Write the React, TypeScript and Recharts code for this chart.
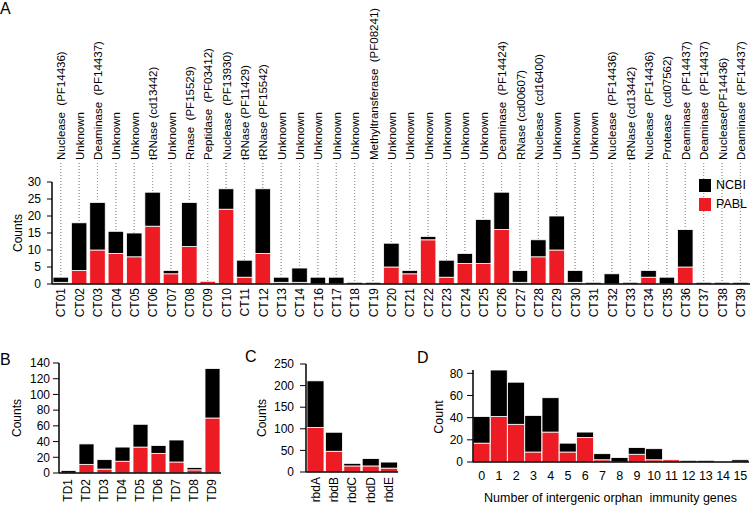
import React from 'react';
import { BarChart, Bar, XAxis, YAxis, Legend } from 'recharts';

const FONT = 'Arial, "Liberation Sans", Helvetica, sans-serif';
const RED = '#ED1C24';
const BLACK = '#000000';
const GUIDE = '#9a9a9a';

// ---------- Panel A ----------
const ctCategories = [
  'CT01', 'CT02', 'CT03', 'CT04', 'CT05', 'CT06', 'CT07', 'CT08', 'CT09', 'CT10',
  'CT11', 'CT12', 'CT13', 'CT14', 'CT16', 'CT17', 'CT18', 'CT19', 'CT20', 'CT21',
  'CT22', 'CT23', 'CT24', 'CT25', 'CT26', 'CT27', 'CT28', 'CT29', 'CT30', 'CT31',
  'CT32', 'CT33', 'CT34', 'CT35', 'CT36', 'CT37', 'CT38', 'CT39',
];
const ctFunctions = [
  'Nuclease  (PF14436)', 'Unknown', 'Deaminase  (PF14437)', 'Unknown', 'Unknown',
  'tRNase (cd13442)', 'Unknown', 'Rnase  (PF15529)', 'Peptidase  (PF03412)', 'Nuclease  (PF13930)',
  'tRNase (PF11429)', 'tRNase (PF15542)', 'Unknown', 'Unknown', 'Unknown',
  'Unknown', 'Unknown', 'Methyltransferase  (PF08241)', 'Unknown', 'Unknown',
  'Unknown', 'Unknown', 'Unknown', 'Unknown', 'Deaminase  (PF14424)',
  'RNase (cd00607)', 'Nuclease  (cd16400)', 'Unknown', 'Unknown', 'Unknown',
  'Nuclease  (PF14436)', 'tRNase (cd13442)', 'Nuclease  (PF14436)', 'Protease  (cd07562)', 'Deaminase  (PF14437)',
  'Deaminase  (PF14437)', 'Nuclease(PF14436)', 'Deaminase  (PF14437)',
];
const ctPABL = [
  0.5, 4, 10, 9, 8, 17, 3, 11, 0.8, 22,
  2, 9, 0.5, 0.5, 0, 0, 0, 0, 5, 3,
  13, 2, 6, 6, 16, 0.5, 8, 10, 0.5, 0,
  0, 0, 2, 0, 5, 0, 0, 0,
];
const ctNCBI = [
  1.5, 14, 14, 6.5, 7, 10, 1, 13, 0, 6,
  5, 19, 1.5, 4.2, 2, 2, 0.5, 0.5, 7, 1,
  1, 5, 3, 13, 11, 3.5, 5, 10, 3.5, 0.5,
  3, 0.5, 2, 2, 11, 0.5, 0.5, 0.5,
];
const aTicks = [0, 5, 10, 15, 20, 25, 30];
const legendOrder = ['NCBI', 'PABL'];

// ---------- Panel B ----------
const tdCategories = ['TD1', 'TD2', 'TD3', 'TD4', 'TD5', 'TD6', 'TD7', 'TD8', 'TD9'];
const tdPABL = [0, 11, 5, 15, 33, 25, 14, 4, 70];
const tdNCBI = [3, 26, 12, 18, 29, 10, 28, 3, 63];
const bTicks = [0, 20, 40, 60, 80, 100, 120, 140];

// ---------- Panel C ----------
const rbdCategories = ['rbdA', 'rbdB', 'rbdC', 'rbdD', 'rbdE'];
const rbdPABL = [103, 48, 14, 14, 9];
const rbdNCBI = [108, 44, 6, 17, 14];
const cTicks = [0, 50, 100, 150, 200, 250];

// ---------- Panel D ----------
const orphanCategories = ['0', '1', '2', '3', '4', '5', '6', '7', '8', '9', '10', '11', '12', '13', '14', '15'];
const orphanPABL = [17, 41, 34, 9, 27, 9, 22, 2, 0, 7, 2, 2, 0, 0, 0, 0];
const orphanNCBI = [24, 42, 38, 33, 31, 8, 5, 5.5, 4, 6, 10, 0, 1.5, 1.5, 0.5, 2];
const dTicks = [0, 20, 40, 60, 80];

const build = (cats: string[], pabl: number[], ncbi: number[]) =>
  cats.map((c, i) => ({ cat: c, PABL: pabl[i], NCBI: ncbi[i] }));

const dataA = build(ctCategories, ctPABL, ctNCBI);
const dataB = build(tdCategories, tdPABL, tdNCBI);
const dataC = build(rbdCategories, rbdPABL, rbdNCBI);
const dataD = build(orphanCategories, orphanPABL, orphanNCBI);

const fnMap: Record<string, string> = {};
ctCategories.forEach((c, i) => {
  fnMap[c] = ctFunctions[i];
});

const makeShape = (fill: string, guide: boolean) => (props: any) => {
  const { x, y, width, height, background } = props;
  const els: any[] = [];
  if (guide) {
    const cx = x + width / 2;
    const plotTop = background && typeof background.y === 'number' ? background.y : y;
    els.push(
      <line key="g" x1={cx} x2={cx} y1={plotTop - 19} y2={y} stroke={GUIDE} strokeWidth={1} strokeDasharray="1 2" />
    );
  }
  if (height > 0) {
    els.push(
      <rect key="r" x={x} y={y} width={width} height={height} fill={fill} stroke="#ffffff" strokeWidth={0.8} />
    );
  }
  return <g>{els}</g>;
};

const redGuided = makeShape(RED, true);
const blackGuided = makeShape(BLACK, true);
const redPlain = makeShape(RED, false);
const blackPlain = makeShape(BLACK, false);

const TopTick = (props: any) => {
  const { x, y, payload } = props;
  return (
    <text
      x={x}
      y={y}
      transform={`rotate(-90 ${x} ${y})`}
      textAnchor="start"
      dy="0.36em"
      fontSize={11.5}
      fill="#000"
      fontFamily={FONT}
      style={{ whiteSpace: 'pre' }}
    >
      {fnMap[payload.value]}
    </text>
  );
};

const RotBottomTick = (props: any) => {
  const { x, y, payload } = props;
  return (
    <text
      x={x}
      y={y}
      transform={`rotate(-90 ${x} ${y})`}
      textAnchor="end"
      dy="0.36em"
      fontSize={12}
      fill="#000"
      fontFamily={FONT}
    >
      {payload.value}
    </text>
  );
};

const LegendContent = (props: any) => {
  const items = [...(props.payload || [])].sort(
    (a: any, b: any) => legendOrder.indexOf(a.value) - legendOrder.indexOf(b.value)
  );
  return (
    <div style={{ fontFamily: FONT, fontSize: 12.5, color: '#000' }}>
      {items.map((it: any) => (
        <div key={it.value} style={{ display: 'flex', alignItems: 'center', height: 13, marginBottom: 6 }}>
          <span style={{ display: 'inline-block', width: 12, height: 13, background: it.color, marginRight: 5 }} />
          <span style={{ lineHeight: '13px' }}>{it.value}</span>
        </div>
      ))}
    </div>
  );
};

const axisLine = { stroke: '#000', strokeWidth: 1.5 };
const tickStyle = { fill: '#000', fontSize: 12, fontFamily: FONT };

const PanelA = () => (
  <BarChart width={750} height={330} data={dataA} margin={{ top: 0, right: 0, bottom: 0, left: 0 }} barSize={15.5}>
    <XAxis
      xAxisId="top"
      orientation="top"
      dataKey="cat"
      height={182}
      axisLine={false}
      tickLine={false}
      tickSize={0}
      tickMargin={22}
      interval={0}
      tick={<TopTick />}
    />
    <XAxis
      xAxisId="bottom"
      dataKey="cat"
      height={46}
      axisLine={axisLine}
      tickLine={false}
      tickSize={0}
      tickMargin={4}
      interval={0}
      tick={<RotBottomTick />}
    />
    <YAxis
      type="number"
      domain={[0, 30]}
      ticks={aTicks}
      interval={0}
      width={52}
      axisLine={axisLine}
      tickLine={{ stroke: '#000' }}
      tickSize={5}
      tickMargin={6}
      tick={tickStyle}
    />
    <Legend
      layout="vertical"
      align="center"
      verticalAlign="middle"
      wrapperStyle={{ left: 699, top: 179, width: 60 }}
      content={<LegendContent />}
    />
    <Bar xAxisId="bottom" dataKey="PABL" name="PABL" stackId="s" fill={RED} shape={redGuided} isAnimationActive={false} />
    <Bar xAxisId="bottom" dataKey="NCBI" name="NCBI" stackId="s" fill={BLACK} shape={blackGuided} isAnimationActive={false} />
  </BarChart>
);

const PanelB = () => (
  <BarChart width={230} height={175} data={dataB} margin={{ top: 33, right: 9, bottom: 0, left: 0 }} barSize={15}>
    <XAxis
      dataKey="cat"
      height={32}
      axisLine={axisLine}
      tickLine={false}
      tickSize={0}
      tickMargin={6}
      interval={0}
      tick={<RotBottomTick />}
    />
    <YAxis
      type="number"
      domain={[0, 140]}
      ticks={bTicks}
      interval={0}
      width={59}
      axisLine={axisLine}
      tickLine={{ stroke: '#000' }}
      tickSize={6}
      tickMargin={3}
      tick={tickStyle}
    />
    <Bar dataKey="PABL" name="PABL" stackId="s" fill={RED} shape={redPlain} isAnimationActive={false} />
    <Bar dataKey="NCBI" name="NCBI" stackId="s" fill={BLACK} shape={blackPlain} isAnimationActive={false} />
  </BarChart>
);

const PanelC = () => (
  <BarChart width={160} height={175} data={dataC} margin={{ top: 34, right: 2, bottom: 0, left: 0 }} barSize={17}>
    <XAxis
      dataKey="cat"
      height={33}
      axisLine={axisLine}
      tickLine={false}
      tickSize={0}
      tickMargin={5}
      interval={0}
      tick={<RotBottomTick />}
    />
    <YAxis
      type="number"
      domain={[0, 250]}
      ticks={cTicks}
      interval={0}
      width={66}
      axisLine={axisLine}
      tickLine={{ stroke: '#000' }}
      tickSize={6}
      tickMargin={6}
      tick={tickStyle}
    />
    <Bar dataKey="PABL" name="PABL" stackId="s" fill={RED} shape={redPlain} isAnimationActive={false} />
    <Bar dataKey="NCBI" name="NCBI" stackId="s" fill={BLACK} shape={blackPlain} isAnimationActive={false} />
  </BarChart>
);

const PanelD = () => (
  <BarChart width={330} height={175} data={dataD} margin={{ top: 40, right: 1, bottom: 0, left: 0 }} barCategoryGap={0}>
    <XAxis
      dataKey="cat"
      height={43}
      axisLine={axisLine}
      tickLine={false}
      tickSize={0}
      tickMargin={9}
      interval={0}
      tick={{ fill: '#000', fontSize: 12.5, fontFamily: FONT }}
    />
    <YAxis
      type="number"
      domain={[0, 'dataMax']}
      ticks={dTicks}
      interval={0}
      width={53}
      axisLine={axisLine}
      tickLine={{ stroke: '#000' }}
      tickSize={6}
      tickMargin={4}
      tick={tickStyle}
    />
    <Bar dataKey="PABL" name="PABL" stackId="s" fill={RED} shape={redPlain} isAnimationActive={false} />
    <Bar dataKey="NCBI" name="NCBI" stackId="s" fill={BLACK} shape={blackPlain} isAnimationActive={false} />
  </BarChart>
);

const VLabel = ({ x, y, text, size = 12 }: { x: number; y: number; text: string; size?: number }) => (
  <text
    x={x}
    y={y}
    transform={`rotate(-90 ${x} ${y})`}
    textAnchor="middle"
    dominantBaseline="central"
    fontSize={size}
    fill="#000"
    fontFamily={FONT}
  >
    {text}
  </text>
);

export default function App() {
  return (
    <div
      style={{
        position: 'absolute',
        left: 0,
        top: 0,
        width: 750,
        height: 505,
        background: '#fff',
        fontFamily: FONT,
        overflow: 'hidden',
      }}
    >
      <div style={{ position: 'absolute', left: 0, top: 0 }}>
        <PanelA />
      </div>
      <div style={{ position: 'absolute', left: 0, top: 330 }}>
        <PanelB />
      </div>
      <div style={{ position: 'absolute', left: 240, top: 330 }}>
        <PanelC />
      </div>
      <div style={{ position: 'absolute', left: 420, top: 330 }}>
        <PanelD />
      </div>
      <svg
        width={750}
        height={505}
        style={{ position: 'absolute', left: 0, top: 0, pointerEvents: 'none' }}
      >
        <text x={0} y={14} fontSize={16} fill="#000" fontFamily={FONT}>A</text>
        <text x={0} y={365} fontSize={16} fill="#000" fontFamily={FONT}>B</text>
        <text x={245} y={362} fontSize={16} fill="#000" fontFamily={FONT}>C</text>
        <text x={417} y={363} fontSize={16} fill="#000" fontFamily={FONT}>D</text>
        <VLabel x={17.5} y={233} text="Counts" />
        <VLabel x={17} y={418} text="Counts" />
        <VLabel x={261.5} y={418} text="Counts" />
        <VLabel x={438.5} y={417} text="Count" size={12.5} />
        <text
          x={610.5}
          y={501.5}
          textAnchor="middle"
          fontSize={12.5}
          fill="#000"
          fontFamily={FONT}
          style={{ whiteSpace: 'pre' }}
        >
          {'Number of intergenic orphan  immunity genes'}
        </text>
      </svg>
    </div>
  );
}
